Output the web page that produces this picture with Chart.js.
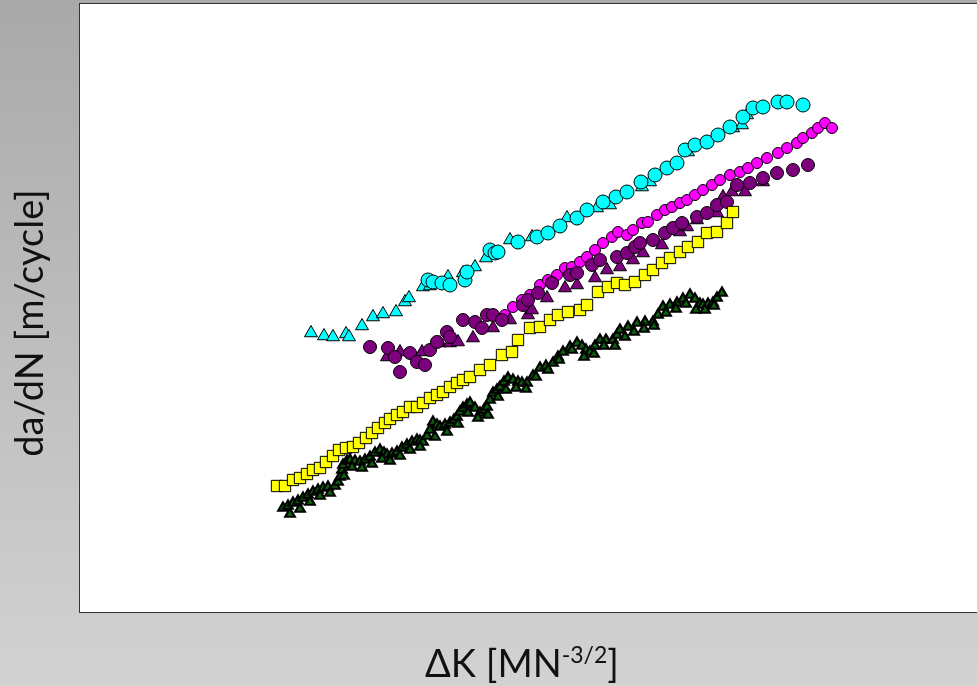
<!DOCTYPE html>
<html>
<head>
<meta charset="utf-8">
<script src="https://cdn.jsdelivr.net/npm/chart.js@4"></script>
<style>
  html, body { margin: 0; padding: 0; background: #c0c0c0; }
  canvas { display: block; }
</style>
</head>
<body>
<canvas id="myChart" width="977" height="686"></canvas>
<script>
// values, arbitrary units (no tick labels in the original)
const cyanTriX = [31.1, 32.4, 33.3, 34.6, 34.9, 36.2, 37.3, 38.3, 39.6, 40.5, 40.9, 42.3, 43.0, 44.8, 46.3, 47.5, 48.6, 51.0, 53.2, 56.7, 59.7, 61.0, 64.2, 65.0, 68.8, 73.3, 74.2, 74.7];
const cyanTriY = [36.7, 36.4, 36.3, 36.6, 36.3, 37.4, 38.3, 38.6, 38.8, 39.8, 40.2, 41.3, 41.4, 42.3, 42.7, 43.3, 44.2, 46.0, 46.3, 48.2, 49.2, 49.5, 51.3, 51.8, 54.8, 57.2, 57.5, 58.5];

const cyanCirX = [42.8, 43.3, 44.2, 45.0, 46.5, 46.7, 49.0, 49.5, 49.8, 51.8, 53.7, 54.8, 56.0, 57.7, 58.7, 60.3, 61.6, 62.7, 64.1, 65.5, 66.7, 67.7, 68.5, 69.5, 70.7, 71.8, 73.0, 74.3, 75.3, 76.3, 77.8, 78.7, 80.3];
const cyanCirY = [42.0, 41.8, 41.7, 41.5, 42.0, 42.8, 45.0, 44.7, 44.8, 45.8, 46.3, 46.7, 47.4, 48.2, 49.0, 49.8, 50.3, 50.8, 51.8, 52.5, 53.2, 53.7, 55.0, 55.5, 55.8, 56.5, 57.3, 58.3, 59.2, 59.3, 59.8, 59.8, 59.5];

const magentaX = [50.5, 51.3, 52.2, 53.0, 54.0, 54.8, 55.7, 56.5, 57.2, 58.0, 58.7, 59.5, 60.3, 61.2, 61.8, 62.7, 63.3, 64.2, 64.8, 65.7, 66.5, 67.2, 68.0, 68.7, 69.5, 70.3, 71.2, 72.0, 73.0, 74.0, 74.8, 75.7, 76.7, 77.8, 78.7, 79.7, 80.3, 81.2, 81.8, 82.5, 83.2];
const magentaY = [38.5, 39.3, 40.0, 40.5, 41.5, 42.0, 42.5, 43.2, 43.3, 43.8, 44.3, 45.0, 45.7, 46.3, 46.8, 46.5, 47.0, 47.7, 47.8, 48.5, 49.0, 49.3, 49.7, 50.0, 50.5, 51.0, 51.5, 52.0, 52.5, 52.8, 53.2, 53.7, 54.2, 54.7, 55.2, 55.7, 56.2, 56.7, 57.2, 57.7, 57.2];

const purpleCirX = [37.0, 38.8, 39.5, 40.0, 41.0, 41.7, 42.5, 43.0, 43.7, 44.7, 45.0, 46.3, 47.5, 48.2, 48.7, 49.3, 50.2, 52.3, 52.8, 53.8, 55.2, 57.0, 57.7, 59.2, 60.0, 61.7, 62.7, 63.5, 64.0, 65.3, 66.5, 67.3, 68.2, 69.7, 70.7, 71.7, 72.7, 73.7, 75.0, 76.3, 77.7, 79.3, 80.8];
const purpleCirY = [35.3, 35.2, 34.3, 32.8, 34.7, 33.8, 33.5, 35.0, 35.8, 36.8, 36.3, 38.0, 37.8, 37.2, 38.5, 38.5, 38.0, 39.5, 40.0, 40.7, 41.7, 42.5, 42.7, 43.5, 44.0, 44.3, 44.7, 45.3, 45.7, 46.0, 46.7, 47.2, 47.7, 48.3, 48.7, 49.5, 49.8, 51.5, 51.7, 52.2, 52.7, 53.0, 53.5];

const purpleTriX = [38.7, 40.0, 42.2, 44.0, 45.0, 45.8, 47.3, 49.3, 51.0, 52.8, 53.2, 54.7, 56.5, 57.7, 59.5, 60.7, 62.0, 63.3, 64.3, 66.2, 68.0, 68.7, 69.7, 71.7, 72.3, 73.2, 74.5, 76.3];
const purpleTriY = [34.3, 34.8, 34.8, 35.7, 35.7, 35.8, 36.2, 37.2, 38.0, 38.5, 39.0, 40.2, 41.2, 41.5, 42.2, 43.0, 43.3, 44.0, 44.7, 45.5, 46.8, 47.3, 48.0, 48.7, 50.3, 50.8, 50.8, 51.8];

const yellowX = [27.7, 28.5, 29.3, 30.0, 30.7, 31.3, 32.0, 32.6, 33.3, 33.9, 34.6, 35.3, 35.9, 36.6, 37.2, 37.8, 38.5, 39.0, 39.7, 40.3, 41.0, 41.7, 42.3, 43.0, 43.7, 44.3, 45.0, 45.7, 46.3, 47.0, 48.0, 49.0, 50.2, 51.2, 51.8, 53.0, 54.0, 55.0, 55.8, 56.8, 58.0, 58.7, 59.8, 60.8, 61.7, 62.5, 63.5, 64.5, 65.3, 66.2, 67.0, 68.0, 68.8, 69.8, 70.7, 71.7, 72.7, 73.3];
const yellowY = [21.4, 21.4, 22.0, 22.2, 22.6, 23.0, 23.2, 23.8, 24.4, 25.0, 25.2, 25.3, 25.7, 26.2, 26.7, 27.2, 27.7, 28.1, 28.5, 28.8, 29.3, 29.3, 29.7, 30.2, 30.5, 30.8, 31.3, 31.7, 32.0, 32.3, 33.0, 33.5, 34.5, 34.8, 36.0, 37.2, 37.3, 38.0, 38.5, 38.8, 39.0, 39.5, 40.8, 41.3, 41.7, 41.5, 41.8, 42.5, 43.0, 43.7, 44.2, 44.8, 45.3, 45.8, 46.7, 46.8, 47.7, 48.8];

// green: upper edge and lower edge of the dense band
const greenX = [28.3, 28.8, 29.3, 29.8, 30.3, 30.8, 31.3, 31.8, 32.3, 32.8, 33.5, 33.8, 34.0, 34.2, 34.3, 34.7, 35.0, 35.5, 36.0, 36.5, 37.0, 37.5, 38.0, 38.4, 38.7, 39.2, 39.7, 40.2, 40.7, 41.2, 41.7, 42.0, 42.3, 42.7, 43.0, 43.3, 43.7, 44.0, 44.5, 45.0, 45.4, 45.7, 46.0, 46.3, 46.7, 47.0, 47.5, 48.0, 48.4, 48.7, 49.0, 49.3, 49.7, 50.0, 50.4, 50.8, 51.3, 51.8, 52.2, 52.7, 53.3, 54.0, 54.6, 55.3, 55.8, 56.3, 57.0, 57.7, 58.2, 58.6, 59.0, 59.5, 60.0, 60.6, 61.3, 61.7, 62.0, 62.8, 63.7, 64.5, 65.3, 65.8, 66.3, 67.0, 67.7, 68.3, 69.0, 69.5, 70.0, 70.3, 70.8, 71.3, 71.7, 72.2];
const greenY = [19.2, 19.4, 19.7, 19.9, 20.2, 20.5, 20.8, 21.0, 21.2, 21.3, 21.4, 21.8, 22.3, 23.0, 23.5, 23.9, 24.0, 23.9, 23.8, 24.0, 24.3, 24.7, 25.0, 24.7, 24.5, 24.6, 24.8, 25.2, 25.5, 25.8, 26.0, 25.9, 25.8, 26.4, 27.0, 27.8, 27.5, 27.3, 27.5, 27.7, 28.0, 28.3, 28.8, 29.2, 29.5, 29.7, 29.2, 28.7, 29.0, 29.3, 30.0, 30.7, 31.0, 31.3, 31.8, 32.2, 32.0, 31.8, 31.7, 31.7, 32.4, 33.2, 33.4, 33.7, 34.3, 34.8, 35.3, 35.7, 35.4, 35.0, 34.8, 35.4, 36.0, 36.0, 36.0, 36.5, 37.0, 37.3, 37.7, 37.8, 37.8, 38.5, 39.3, 39.5, 39.7, 40.1, 40.5, 40.1, 39.6, 39.5, 39.6, 39.7, 40.2, 40.7];
const greenLowX = [29.0, 30.0, 31.0, 32.0, 33.0, 34.4, 35.2, 36.2, 37.2, 38.2, 39.0, 40.0, 41.0, 42.0, 43.5, 44.7, 45.8, 46.8, 47.8, 48.8, 49.8, 50.6, 51.6, 52.6, 53.6, 54.8, 55.9, 57.2, 58.4, 59.4, 60.4, 61.5, 62.5, 63.4, 64.4, 65.4, 66.6, 67.6, 68.6, 69.6, 70.5, 71.4];
const greenLowY = [18.6, 19.1, 19.8, 20.4, 20.7, 22.4, 23.3, 23.2, 23.6, 24.1, 23.9, 24.4, 25.0, 25.3, 26.3, 26.8, 27.6, 28.7, 28.2, 28.5, 30.3, 31.0, 31.2, 31.1, 32.3, 33.0, 34.0, 35.0, 34.3, 34.6, 35.4, 35.4, 36.3, 36.8, 37.1, 37.4, 38.7, 39.1, 39.6, 39.0, 39.0, 39.4];

const xLabel = 'ΔK [MN';
const xLabelSup = '-3/2';
const yLabel = 'da/dN [m/cycle]';

function pts(xs, ys) {
    return xs.map((x, i) => ({ x: x, y: ys[i] }));
}

const greenStyle = {
    pointStyle: 'triangle',
    pointRadius: 5.5,
    backgroundColor: '#0b640b',
    borderColor: '#000',
    borderWidth: 2.2
};

const data = {
    datasets: [Object.assign({
        label: 'green low',
        data: pts(greenLowX, greenLowY)
    }, greenStyle), Object.assign({
        label: 'green',
        data: pts(greenX, greenY)
    }, greenStyle), {
        label: 'yellow',
        data: pts(yellowX, yellowY),
        pointStyle: 'rect',
        pointRadius: 8,
        backgroundColor: '#ffff00',
        borderColor: '#000',
        borderWidth: 1
    }, {
        label: 'purple circles',
        data: pts(purpleCirX, purpleCirY),
        pointStyle: 'circle',
        pointRadius: 6.5,
        backgroundColor: '#7d007d',
        borderColor: '#000',
        borderWidth: 1
    }, {
        label: 'purple triangles',
        data: pts(purpleTriX, purpleTriY),
        pointStyle: 'triangle',
        pointRadius: 7.5,
        backgroundColor: '#7d007d',
        borderColor: '#000',
        borderWidth: 1
    }, {
        label: 'magenta',
        data: pts(magentaX, magentaY),
        pointStyle: 'circle',
        pointRadius: 5.5,
        backgroundColor: '#ff00ff',
        borderColor: '#000',
        borderWidth: 1
    }, {
        label: 'cyan circles',
        data: pts(cyanCirX, cyanCirY),
        pointStyle: 'circle',
        pointRadius: 7,
        backgroundColor: '#00ffff',
        borderColor: '#000',
        borderWidth: 1
    }, {
        label: 'cyan triangles',
        data: pts(cyanTriX, cyanTriY),
        pointStyle: 'triangle',
        pointRadius: 7.5,
        backgroundColor: '#00ffff',
        borderColor: '#000',
        borderWidth: 1
    }]
};

// gray backdrop, white plot box and the two axis titles
const frame = {
    id: 'frame',
    beforeDraw(chart) {
        const ctx = chart.ctx;
        const a = chart.chartArea;
        const g = ctx.createLinearGradient(0, 0, 0, chart.height);
        g.addColorStop(0, '#a9a9a9');
        g.addColorStop(1, '#d2d2d2');
        ctx.save();
        ctx.fillStyle = g;
        ctx.fillRect(0, 0, chart.width, chart.height);
        ctx.fillStyle = '#fff';
        ctx.fillRect(a.left, a.top, a.right - a.left, a.bottom - a.top);
        ctx.strokeStyle = '#333';
        ctx.lineWidth = 1;
        ctx.strokeRect(a.left - 0.5, a.top - 0.5, a.right - a.left + 2, a.bottom - a.top + 1);
        ctx.restore();
    },
    afterDraw(chart) {
        const ctx = chart.ctx;
        ctx.save();
        ctx.fillStyle = '#111';
        ctx.textBaseline = 'alphabetic';
        const big = '38px Lato';
        const small = '23px Lato';
        ctx.font = big;
        const w1 = ctx.measureText(xLabel).width;
        const w3 = ctx.measureText(']').width;
        ctx.font = small;
        const w2 = ctx.measureText(xLabelSup).width;
        let x = 522 - (w1 + w2 + w3) / 2;
        const base = 677;
        ctx.font = big;
        ctx.fillText(xLabel, x, base);
        x += w1;
        ctx.font = small;
        ctx.fillText(xLabelSup, x, base - 14);
        x += w2;
        ctx.font = big;
        ctx.fillText(']', x, base);

        ctx.translate(31, 323);
        ctx.rotate(-Math.PI / 2);
        ctx.textAlign = 'center';
        ctx.textBaseline = 'middle';
        ctx.font = big;
        ctx.fillText(yLabel, 0, 0);
        ctx.restore();
    }
};

const config = {
    type: 'scatter',
    data: data,
    options: {
        responsive: false,
        animation: false,
        layout: { autoPadding: false, padding: { left: 80, top: 4, right: 0, bottom: 74 } },
        plugins: { legend: { display: false }, tooltip: { enabled: false } },
        scales: {
            x: { type: 'linear', min: 8, max: 97.7, display: false },
            y: { type: 'linear', min: 8.8, max: 69.6, display: false }
        }
    },
    plugins: [frame]
};

const myChart = new Chart(document.getElementById('myChart'), config);
</script>
</body>
</html>
